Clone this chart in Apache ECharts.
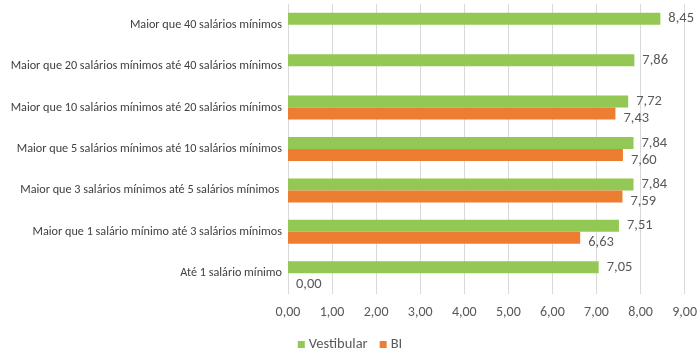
<!DOCTYPE html>
<html>
<head>
<meta charset="utf-8">
<script src="https://cdn.jsdelivr.net/npm/echarts@6/dist/echarts.min.js"></script>
<style>
html, body { margin: 0; padding: 0; background: #fff; }
#chart { width: 700px; height: 349px; }
</style>
</head>
<body>
<div id="chart"></div>
<script>
// categories, top to bottom
var categories = [
    'Maior que 40 salários mínimos',
    'Maior que 20 salários mínimos até 40 salários mínimos',
    'Maior que 10 salários mínimos até 20 salários mínimos',
    'Maior que 5 salários mínimos até 10 salários mínimos',
    'Maior que 3 salários mínimos até 5 salários mínimos ',
    'Maior que 1 salário mínimo até 3 salários mínimos',
    'Até 1 salário mínimo'
];
var vestibular = [8.45, 7.86, 7.72, 7.84, 7.84, 7.51, 7.05];
var bi = ['-', '-', 7.43, 7.60, 7.59, 6.63, 0.00];
var xTicks = [0, 1, 2, 3, 4, 5, 6, 7, 8, 9];

function fmt(v) {
    return Number(v).toFixed(2).replace('.', ',');
}

var font = 'Carlito, "Open Sans", "Liberation Sans", sans-serif';

var chart = echarts.init(document.getElementById('chart'));
chart.setOption({
    animation: false,
    textStyle: {fontFamily: font},
    grid: {left: 288, right: 14, top: 4, bottom: 55, containLabel: false},
    legend: {
        data: ['Vestibular', 'BI'],
        top: 332,
        left: 'center',
        itemWidth: 7,
        itemHeight: 7,
        itemGap: 12,
        icon: 'rect',
        textStyle: {fontSize: 14.5, color: '#595959', fontFamily: font, padding: [0, 0, 0, -1]}
    },
    xAxis: {
        type: 'value',
        min: xTicks[0],
        max: xTicks[xTicks.length - 1],
        interval: 1,
        axisLine: {show: false},
        axisTick: {show: false},
        splitLine: {lineStyle: {color: '#d9d9d9'}},
        axisLabel: {
            margin: 11,
            fontSize: 14,
            color: '#595959',
            formatter: function (v) { return fmt(v); }
        }
    },
    yAxis: {
        type: 'category',
        inverse: true,
        data: categories,
        axisLine: {show: false},
        axisTick: {show: false},
        axisLabel: {margin: 6, fontSize: 12.2, color: '#404040'}
    },
    series: [
        {
            name: 'Vestibular',
            type: 'bar',
            data: vestibular,
            barWidth: 12,
            barGap: '0%',
            itemStyle: {color: '#92c853'},
            label: {
                show: true,
                position: 'right',
                distance: 8,
                fontSize: 14.5,
                color: '#595959',
                formatter: function (p) { return fmt(p.value); }
            }
        },
        {
            name: 'BI',
            type: 'bar',
            data: bi,
            barWidth: 12,
            barGap: '0%',
            itemStyle: {color: '#ed7d31'},
            label: {
                show: true,
                position: 'right',
                distance: 8,
                offset: [0, 5],
                fontSize: 14.5,
                color: '#595959',
                formatter: function (p) { return fmt(p.value); }
            }
        }
    ]
});
</script>
</body>
</html>
